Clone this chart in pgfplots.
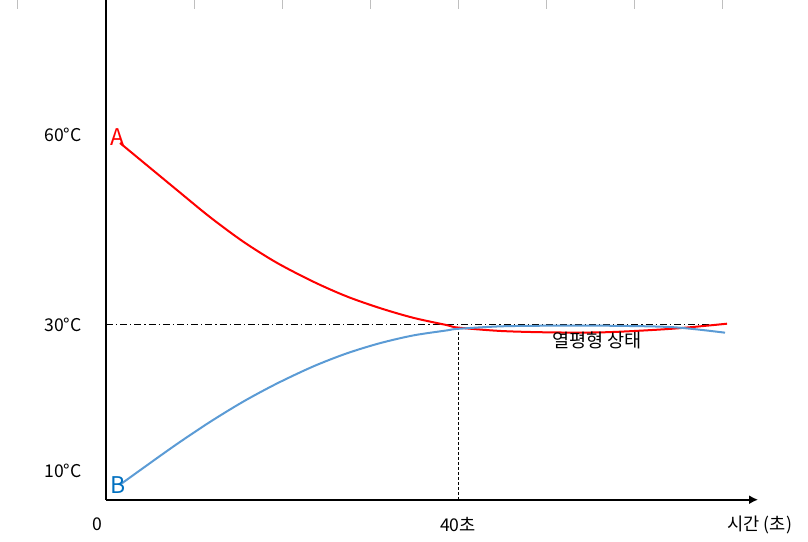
\documentclass[border=0pt]{standalone}
\usepackage{pgfplots}
\pgfplotsset{compat=1.18}
\usepackage{fontspec}
\setmainfont{Noto Sans CJK KR}
\usetikzlibrary{arrows.meta}
\definecolor{ared}{HTML}{FF0000}
\definecolor{bline}{HTML}{5B9BD5}
\definecolor{blab}{HTML}{0070C0}
\begin{document}
\begin{tikzpicture}
\begin{axis}[
 scale only axis, x=4.4pt, y=3.16667pt,
 xmin=0, xmax=74.1, ymin=2.37, ymax=81.27,
 axis x line=bottom, axis y line=left,
 x axis line style={line width=1.1pt, -{Latex[length=4.5pt,width=4.5pt]}},
 y axis line style={line width=1.2pt, -},
 xtick=\empty, ytick=\empty,
 clip=false,
 font=\fontsize{8.8}{10}\selectfont,
]
% top grid stubs
\foreach \gx in {-10,10,20,30,40,50,60,70} {
  \edef\tmp{\noexpand\draw[color=black!25, line width=0.5pt] (axis cs:\gx,81.27) -- (axis cs:\gx,79.85);}\tmp
}
% guide lines
\addplot[black, line width=0.5pt, dash pattern=on 3.5pt off 1.5pt on 0.6pt off 1.5pt] coordinates {(0,30) (68.6,30)};
\addplot[black, line width=0.5pt, dash pattern=on 1.5pt off 1pt] coordinates {(40,2.37) (40,29.5)};
% A (red)
\addplot[ared, line width=1pt, smooth] coordinates {
(1.59,58.69) (8.03,51.30) (11.82,46.99) (15.60,43.11) (19.40,39.79)
(23.56,36.79) (27.35,34.47) (31.14,32.62) (34.92,31.09) (38.72,29.94) (40.0,29.55)
(45.0,29.0) (51.0,28.78) (57.0,28.82) (64.4,29.37) (70.57,30.16)};
% B (blue)
\addplot[bline, line width=1pt, smooth] coordinates {
(1.59,4.74) (4.24,7.39) (8.03,11.13) (11.82,14.65) (15.60,17.86) (19.40,20.70)
(23.56,23.42) (27.35,25.47) (31.14,27.09) (34.92,28.31) (38.72,29.10) (40.0,29.35)
(45.0,29.75) (51.0,29.85) (57.0,29.84) (64.4,29.61) (70.34,28.74)};
% labels
\node[anchor=east, inner sep=0pt] at (axis cs:-2.73,60) {60°C};
\node[anchor=east, inner sep=0pt] at (axis cs:-2.73,30) {30°C};
\node[anchor=east, inner sep=0pt] at (axis cs:-2.73,6.95) {10°C};
\node at (axis cs:-0.97,-1.55) {0};
\node at (axis cs:40,-1.58) {40초};
\node at (axis cs:74.3,-1.58) {시간 (초)};
\node[font=\fontsize{9.3}{11}\selectfont] at (axis cs:55.8,27.47) {열평형 상태};
\node[ared, font=\fontsize{11.5}{12}\selectfont] at (axis cs:1.36,59.7) {A};
\node[blab, font=\fontsize{11.5}{12}\selectfont] at (axis cs:1.42,4.66) {B};
\coordinate (bl) at (axis cs:-12.045,-4.26);
\coordinate (tr) at (axis cs:79.77,81.27);
\end{axis}
\pgfresetboundingbox
\path[use as bounding box] (bl) rectangle (tr);
\end{tikzpicture}
\end{document}
